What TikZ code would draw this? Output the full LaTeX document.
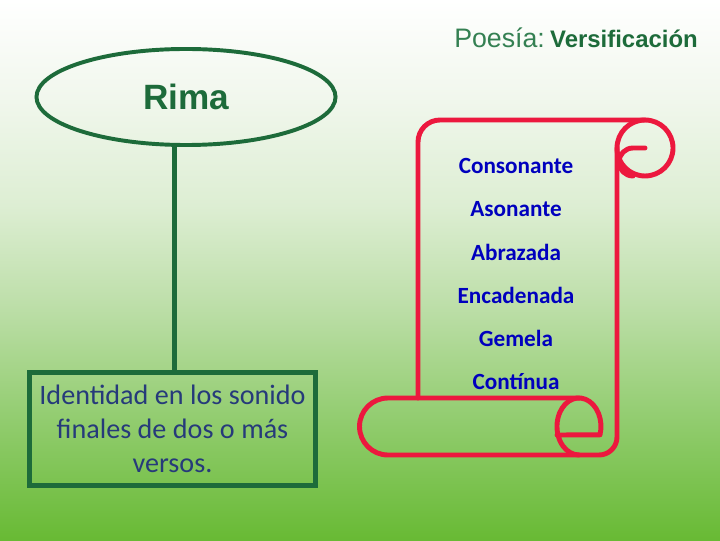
\documentclass[tikz,border=0pt]{standalone}
\usepackage{fontspec}
\setmainfont{Carlito}
\newfontfamily\arialfont{Liberation Sans}
\usetikzlibrary{shapes.geometric}
\definecolor{rimagreen}{RGB}{29,107,58}
\definecolor{titlegreen}{RGB}{52,128,82}
\definecolor{boxblue}{RGB}{38,58,122}
\definecolor{itemblue}{RGB}{0,0,190}
\definecolor{scrollred}{RGB}{236,24,62}
\definecolor{bgA}{RGB}{104,186,52}
\definecolor{bgB}{RGB}{145,204,110}
\definecolor{bgC}{RGB}{190,223,170}
\definecolor{bgD}{RGB}{221,238,211}
\definecolor{bgE}{RGB}{241,247,237}
\pgfdeclareverticalshading{slidebg}{100bp}{color(0bp)=(bgA); color(25bp)=(bgA);
  color(36bp)=(bgB); color(47bp)=(bgC); color(56bp)=(bgD); color(66bp)=(bgE);
  color(75bp)=(white); color(100bp)=(white)}

\begin{document}
\begin{tikzpicture}[x=0.025cm,y=0.025cm,
    rimaline/.style={draw=rimagreen,line width=3.5pt},
    scroll/.style={draw=scrollred,line width=3.5pt,line cap=round,line join=round},
    item/.style={text=itemblue,font=\bfseries\fontsize{16.5}{20}\selectfont}]
  \shade[shading=slidebg] (0,0) rectangle (720,540);
  \useasboundingbox (0,0) rectangle (720,540);

  % title
  \node[anchor=base east,inner sep=0pt] (title) at (698,492)
    {\arialfont\fontsize{19}{22}\selectfont\color{titlegreen}Poesía:\hspace{0.2em}%
     \color{rimagreen}\bfseries\fontsize{17}{20}\selectfont Versificación};

  \node[ellipse,draw=rimagreen,line width=2.8pt,minimum width=7.475cm,minimum height=2.4cm,
    text=rimagreen,font=\arialfont\bfseries\fontsize{25}{30}\selectfont] (rima) at (186,443) {Rima};

  \node[draw=rimagreen,line width=3.5pt,minimum width=7.15cm,minimum height=2.825cm,
    text width=7cm,inner sep=1pt,align=center,text=boxblue,font=\fontsize{20}{24}\selectfont]
    (box) at (172.5,111) {\spaceskip=0.23em\relax Identidad en los sonido\\ finales de dos o más\\ versos.};

  \draw[rimaline] ([xshift=1.5]box.north) -- ([xshift=1.5]box.north |- rima.south);

  % scroll
  \draw[scroll] (418,142) -- (418,398) arc[start angle=180,end angle=90,radius=22] -- (645,420);
  \draw[scroll] (645,392) circle[radius=28];
  \draw[scroll] (645,392) -- (633,392) arc[start angle=90,end angle=270,radius=14];
  \draw[scroll] (617,392) -- (617,103) arc[start angle=0,end angle=-90,radius=18]
    -- (388,85) arc[start angle=270,end angle=90,radius=28.5] -- (579,142);
  \draw[scroll] (600,105.2) arc[start angle=-17,end angle=270,x radius=22,y radius=28.5]
    (557,105) -- (600,105.2);

  \foreach \w [count=\i] in {Consonante,Asonante,Abrazada,Encadenada,Gemela,Contínua}
    \node[item] (item\i) at (516,{374-(\i-1)*43.2}) {\w};
\end{tikzpicture}
\end{document}
